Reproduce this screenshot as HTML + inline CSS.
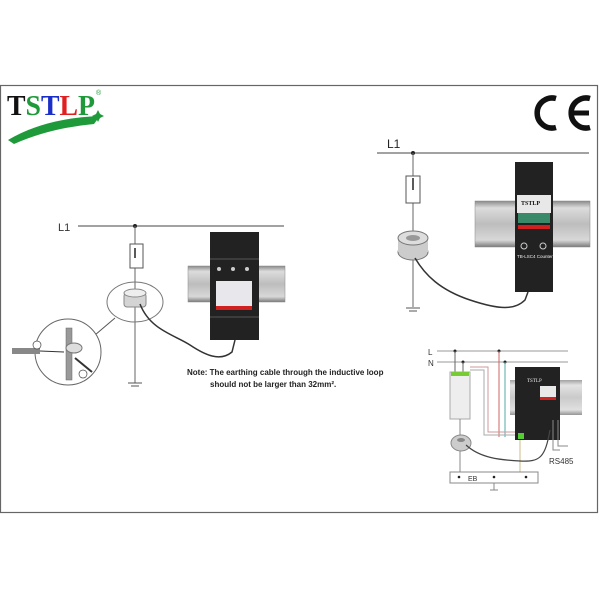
<!DOCTYPE html>
<html><head><style>
html,body{margin:0;padding:0;background:#fff;}
svg{display:block;}
text{font-family:"Liberation Sans",sans-serif;}
.serif{font-family:"Liberation Serif",serif;}
</style></head><body>
<svg width="600" height="600" viewBox="0 0 600 600">
<defs>
<linearGradient id="rail" x1="0" y1="0" x2="0" y2="1">
<stop offset="0" stop-color="#8a8a8a"/><stop offset="0.15" stop-color="#dcdcdc"/><stop offset="0.5" stop-color="#bdbdbd"/><stop offset="0.85" stop-color="#d8d8d8"/><stop offset="1" stop-color="#7a7a7a"/>
</linearGradient>
</defs>
<rect x="0.5" y="85.5" width="597" height="427" fill="#fff" stroke="#666" stroke-width="1.2"/>
<!-- logo -->
<path d="M8 140 Q45 118 100 116 L94 124 Q50 128 14 144 Z" fill="#1f9a3a"/>
<text x="7" y="115" class="serif" font-weight="bold" font-size="28" textLength="88" lengthAdjust="spacingAndGlyphs"><tspan fill="#111">T</tspan><tspan fill="#1f9a3a">S</tspan><tspan fill="#1a2fc8">T</tspan><tspan fill="#e02020">L</tspan><tspan fill="#1f9a3a">P</tspan></text>
<text x="96" y="95" font-size="7" fill="#1f9a3a">®</text>
<path d="M96 114 l2 -4 l2 4 l4 2 l-4 2 l-2 4 l-2 -4 l-4 -2 Z" fill="#1f9a3a"/>
<!-- CE mark -->
<path d="M556 98.5 A15 15 0 1 0 556 127.5" fill="none" stroke="#111" stroke-width="5.5"/>
<path d="M590 98.5 A15 15 0 1 0 590 127.5" fill="none" stroke="#111" stroke-width="5.5"/>
<line x1="572" y1="113" x2="589" y2="113" stroke="#111" stroke-width="5"/>
<!-- left diagram -->
<text x="58" y="231" font-size="11" fill="#333">L1</text>
<line x1="78" y1="226" x2="284" y2="226" stroke="#444" stroke-width="1"/>
<circle cx="135" cy="226" r="2" fill="#222"/>
<line x1="135" y1="226" x2="135" y2="383" stroke="#666" stroke-width="1"/>
<rect x="130" y="244" width="13" height="24" fill="#fff" stroke="#555"/>
<line x1="135" y1="248" x2="135" y2="258" stroke="#222" stroke-width="1.5"/>
<ellipse cx="135" cy="302" rx="28" ry="20" fill="none" stroke="#777"/>
<rect x="124" y="293" width="22" height="14" rx="3" fill="#d4d4d4" stroke="#888"/>
<ellipse cx="135" cy="293" rx="11" ry="4" fill="#eee" stroke="#888"/>
<line x1="128" y1="383" x2="142" y2="383" stroke="#555"/><line x1="131" y1="386" x2="139" y2="386" stroke="#555"/>
<line x1="115" y1="318" x2="95" y2="335" stroke="#555"/>
<circle cx="68" cy="352" r="33" fill="#fff" stroke="#666"/>
<rect x="66" y="328" width="6" height="52" fill="#999" stroke="#666" stroke-width=".5"/>
<rect x="12" y="348" width="28" height="6" fill="#888"/>
<line x1="40" y1="351" x2="64" y2="352" stroke="#333"/>
<line x1="75" y1="358" x2="92" y2="372" stroke="#333" stroke-width="2"/>
<ellipse cx="74" cy="348" rx="8" ry="5" fill="#ddd" stroke="#777"/>
<circle cx="37" cy="345" r="4" fill="#fff" stroke="#444" stroke-width=".7"/>
<circle cx="83" cy="374" r="4" fill="#fff" stroke="#444" stroke-width=".7"/>
<rect x="188" y="266" width="97" height="36" fill="url(#rail)" stroke="#888" stroke-width=".5"/>
<rect x="210" y="232" width="49" height="108" fill="#222"/>
<line x1="210" y1="259" x2="259" y2="259" stroke="#555"/>
<line x1="210" y1="317" x2="259" y2="317" stroke="#555"/>
<circle cx="219" cy="269" r="2" fill="#ccc"/><circle cx="233" cy="269" r="2" fill="#ccc"/><circle cx="247" cy="269" r="2" fill="#ccc"/>
<rect x="216" y="281" width="36" height="27" fill="#e8e8ec"/>
<rect x="216" y="306" width="36" height="4" fill="#d02020"/>
<path d="M140 304 C150 330 175 335 190 345 S220 362 232 352 L235 340" fill="none" stroke="#333" stroke-width="1.5"/>
<text x="187" y="375" font-size="8" font-weight="bold" fill="#222">Note: The earthing cable through the inductive loop</text>
<text x="210" y="387" font-size="8" font-weight="bold" fill="#222">should not be larger than 32mm².</text>
<!-- right diagram -->
<text x="387" y="148" font-size="12" fill="#222">L1</text>
<line x1="377" y1="153" x2="589" y2="153" stroke="#444"/>
<circle cx="413" cy="153" r="2" fill="#222"/>
<line x1="413" y1="153" x2="413" y2="307" stroke="#666"/>
<rect x="406" y="176" width="14" height="27" fill="#fff" stroke="#555"/>
<line x1="413" y1="178" x2="413" y2="190" stroke="#222" stroke-width="1.5"/>
<line x1="406" y1="308" x2="420" y2="308" stroke="#555"/><line x1="409" y1="311" x2="417" y2="311" stroke="#555"/>
<ellipse cx="413" cy="252" rx="15" ry="8" fill="#ccc" stroke="#777"/>
<rect x="398" y="238" width="30" height="14" fill="#ccc"/>
<ellipse cx="413" cy="238" rx="15" ry="7" fill="#ddd" stroke="#777"/>
<ellipse cx="413" cy="238" rx="7" ry="3" fill="#999"/>
<rect x="475" y="201" width="115" height="46" fill="url(#rail)" stroke="#888" stroke-width=".5"/>
<rect x="515" y="162" width="38" height="130" fill="#222"/>
<rect x="517" y="195" width="34" height="18" fill="#e8e8e8"/>
<text x="521" y="205" font-size="6" font-weight="bold" fill="#111" class="serif">TSTLP</text>
<rect x="518" y="213" width="32" height="10" fill="#3a8a6a"/>
<rect x="518" y="225" width="32" height="4" fill="#d02020"/>
<circle cx="524" cy="246" r="3" fill="none" stroke="#ccc"/><circle cx="543" cy="246" r="3" fill="none" stroke="#ccc"/>
<text x="517" y="258" font-size="4.5" fill="#eee">TB-LSC4 Counter</text>
<path d="M415 258 C425 275 440 290 470 300 S515 310 525 300 L528 292" fill="none" stroke="#333" stroke-width="1.5"/>
<!-- bottom right -->
<text x="428" y="355" font-size="8" fill="#333">L</text>
<text x="428" y="366" font-size="8" fill="#333">N</text>
<line x1="437" y1="351" x2="568" y2="351" stroke="#999"/>
<line x1="437" y1="362" x2="568" y2="362" stroke="#999"/>
<circle cx="455" cy="351" r="1.5" fill="#222"/><circle cx="463" cy="362" r="1.5" fill="#222"/><circle cx="499" cy="351" r="1.5" fill="#222"/><circle cx="505" cy="362" r="1.5" fill="#222"/>
<line x1="455" y1="351" x2="455" y2="372" stroke="#666"/><line x1="463" y1="362" x2="463" y2="372" stroke="#666"/>
<line x1="499" y1="351" x2="499" y2="437" stroke="#c66"/><line x1="505" y1="362" x2="505" y2="437" stroke="#5aa"/>
<path d="M470 367 H488 V432 H516" fill="none" stroke="#c99"/>
<path d="M470 370 H484 V435 H516" fill="none" stroke="#aaa"/>
<rect x="450" y="372" width="20" height="47" fill="#eee" stroke="#aaa"/>
<rect x="451" y="372" width="18" height="4" fill="#7c3"/>
<rect x="510" y="380" width="72" height="35" fill="url(#rail)" opacity=".8"/>
<rect x="515" y="367" width="45" height="73" fill="#222"/>
<rect x="540" y="386" width="16" height="12" fill="#e8e8e8"/>
<rect x="540" y="397" width="16" height="3" fill="#d02020"/>
<text x="527" y="382" font-size="5" fill="#eee" class="serif">TSTLP</text>
<rect x="518" y="433" width="6" height="6" fill="#5c3"/>
<line x1="460" y1="419" x2="460" y2="478" stroke="#888"/>
<line x1="520" y1="440" x2="520" y2="478" stroke="#cb8"/>
<path d="M553 420 V450 H560 M558 420 V446 H568" fill="none" stroke="#888"/>
<ellipse cx="461" cy="443" rx="10" ry="8" fill="#ccc" stroke="#888"/>
<ellipse cx="461" cy="440" rx="4" ry="2" fill="#888"/>
<path d="M466 445 C480 458 500 460 520 461 S545 458 550 430" fill="none" stroke="#444" stroke-width="1.2"/>
<text x="549" y="464" font-size="8" fill="#333">RS485</text>
<rect x="450" y="472" width="88" height="11" fill="#fff" stroke="#888"/>
<text x="468" y="481" font-size="7" fill="#333">EB</text>
<circle cx="459" cy="477" r="1.3" fill="#222"/><circle cx="494" cy="477" r="1.3" fill="#222"/><circle cx="526" cy="477" r="1.3" fill="#222"/>
<line x1="494" y1="483" x2="494" y2="490" stroke="#888"/>
<line x1="490" y1="490" x2="498" y2="490" stroke="#888"/>
</svg>
</body></html>
